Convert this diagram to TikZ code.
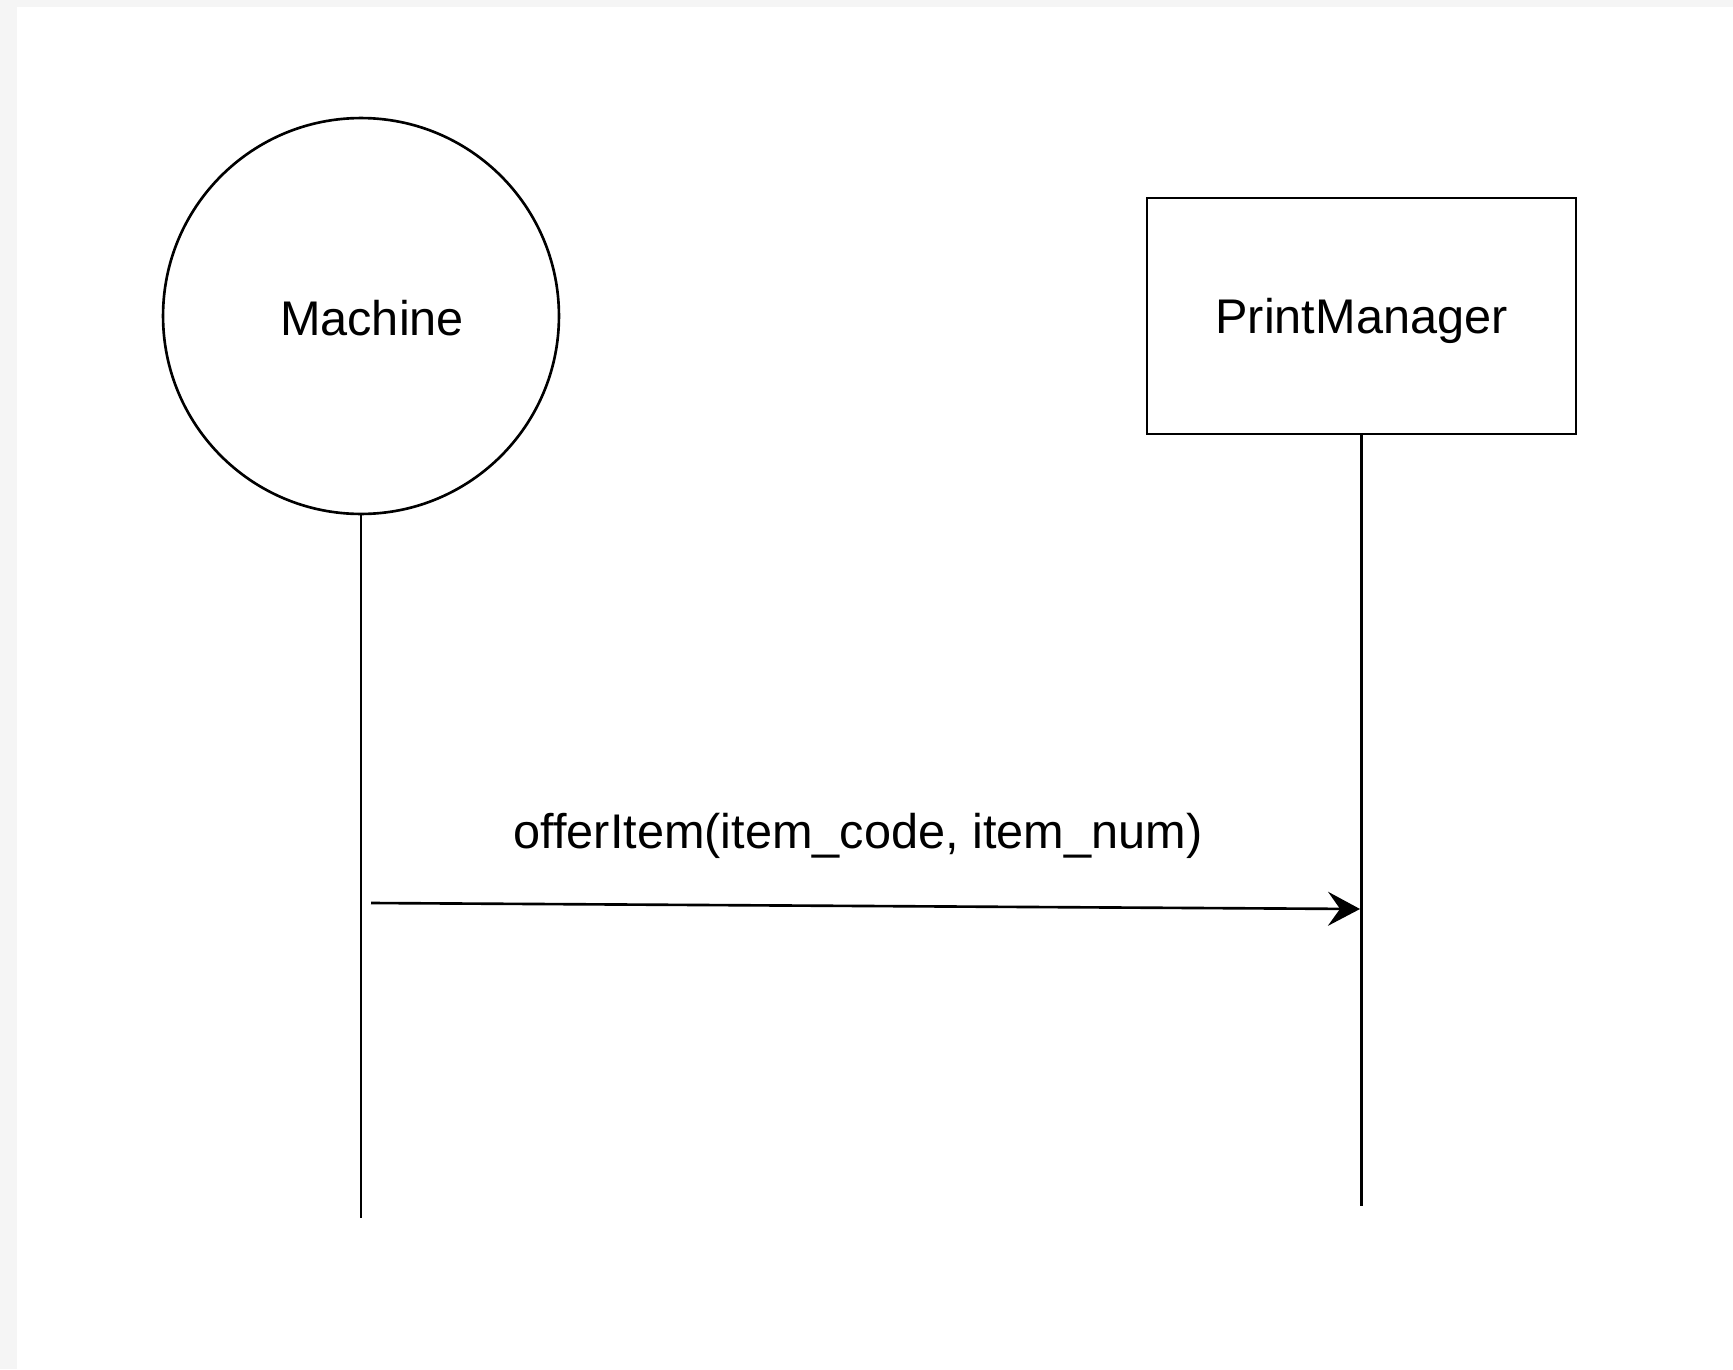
\documentclass[tikz,border=0pt]{standalone}
\usepackage{fontspec}
\setmainfont{Liberation Sans}
\usetikzlibrary{arrows.meta}
\definecolor{pagegray}{RGB}{245,245,245}

\begin{document}
\begin{tikzpicture}[
        x=0.02cm, y=-0.02cm,
        lw/.style={line width=1.5pt},
        lbl/.style={font=\fontsize{27.7}{33}\selectfont},
        actor/.style={draw,lw,circle,minimum size=7.92cm,inner sep=0pt},
        obj/.style={draw,lw,lbl,rectangle,minimum width=8.58cm,minimum height=4.72cm,inner sep=0pt,text depth=0pt},
        msg/.style={lw,-{Stealth[length=6.4mm,width=6.8mm,inset=2.4mm]}}
    ]

    % page
    \fill[pagegray] (0,0) rectangle (1733,1369);
    \fill[white] (17,7) rectangle (1733,1369);
    \useasboundingbox (0,0) rectangle (1733,1369);

    \node[actor,label={[lbl,xshift=0.22cm,yshift=-0.04cm]center:Machine}] (machine) at (361,316) {};
    \node[obj] (printmgr) at (1361.5,316) {PrintManager};

    % lifelines
    \coordinate (machineEnd) at (361,1218);
    \coordinate (printmgrEnd) at (1361.5,1206);
    \draw[lw] (machine) -- (machineEnd);
    \draw[lw] (printmgr) -- (printmgrEnd);

    % message
    \coordinate (msgStart) at (371,903);
    \coordinate (msgEnd) at (1360,909);
    \draw[msg] (msgStart) -- (msgEnd);
    \node[lbl] (offer) at (858,836) {offerItem(item\_code, item\_num)};

\end{tikzpicture}
\end{document}
